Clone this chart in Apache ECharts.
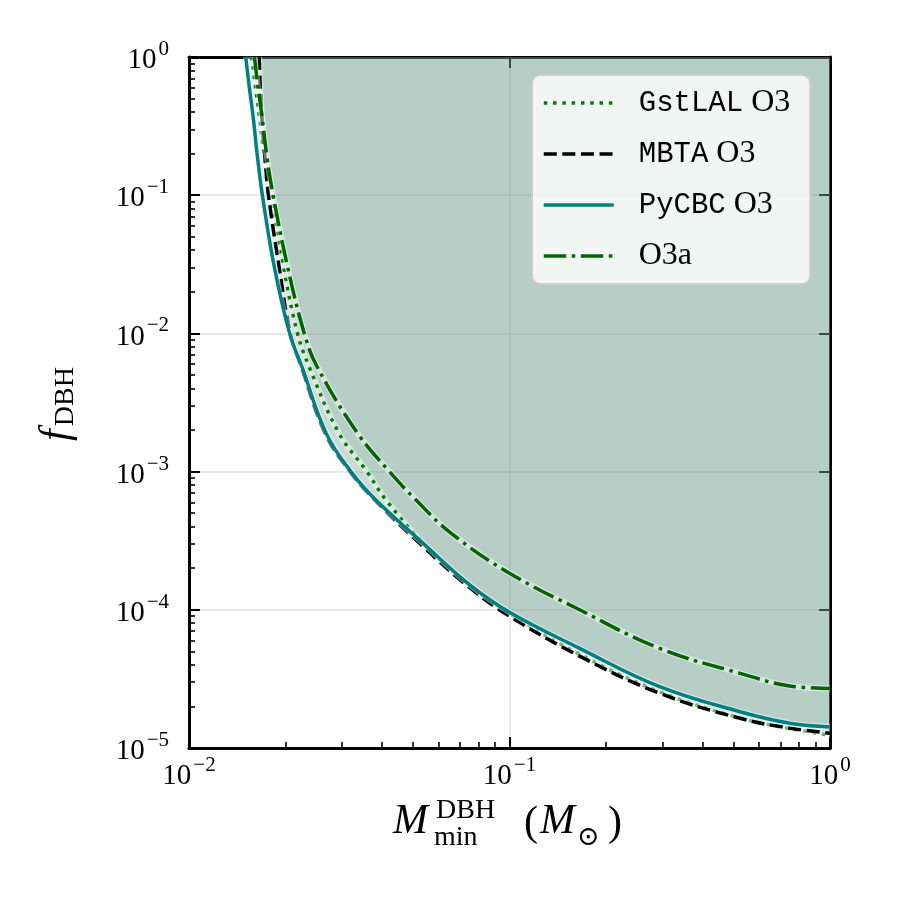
<!DOCTYPE html>
<html>
<head>
<meta charset="utf-8">
<script src="https://cdn.jsdelivr.net/npm/echarts@6/dist/echarts.min.js"></script>
<style>
html, body { margin: 0; background: #fff; }
#chart { width: 900px; height: 900px; }
</style>
</head>
<body>
<div id="chart"></div>
<script>
"use strict";

// curves: [M_min (M_sun), f_DBH]
const gstlalO3 = [
	[0.0157, 1.0], [0.0161, 0.62], [0.0166, 0.37], [0.0172, 0.19], [0.0180, 0.10],
	[0.0197, 0.0304], [0.0218, 0.0100], [0.0237, 5.74e-3], [0.0294, 1.89e-3],
	[0.0359, 1.0e-3], [0.0412, 6.22e-4], [0.055, 2.86e-4], [0.075, 1.50e-4],
	[0.1, 9.4e-5], [0.1655, 4.75e-5], [0.294, 2.55e-5], [0.524, 1.65e-5],
	[0.75, 1.38e-5], [1.0, 1.24e-5]
];
const mbtaO3 = [
	[0.01655, 1.0], [0.01668, 0.62], [0.01687, 0.37], [0.01725, 0.19], [0.0177, 0.10],
	[0.0191, 0.0304], [0.0207, 0.0100], [0.0224, 5.74e-3], [0.0266, 1.89e-3],
	[0.0318, 1.0e-3], [0.0380, 6.22e-4], [0.0535, 2.90e-4], [0.075, 1.45e-4],
	[0.1, 9.0e-5], [0.1655, 4.62e-5], [0.294, 2.49e-5], [0.524, 1.64e-5],
	[0.75, 1.39e-5], [1.0, 1.28e-5]
];
const pycbcO3 = [
	[0.01503, 1.0], [0.01540, 0.62], [0.01585, 0.37], [0.01635, 0.19], [0.01694, 0.10],
	[0.01845, 0.0304], [0.0206, 0.0100], [0.0225, 5.74e-3], [0.0268, 1.89e-3],
	[0.0320, 1.0e-3], [0.0383, 6.22e-4], [0.054, 3.0e-4], [0.075, 1.52e-4],
	[0.1, 9.6e-5], [0.1655, 5.26e-5], [0.294, 2.78e-5], [0.524, 1.83e-5],
	[0.75, 1.51e-5], [1.0, 1.42e-5]
];
const o3a = [
	[0.0160, 1.0], [0.0164, 0.62], [0.0169, 0.37], [0.0175, 0.19], [0.0183, 0.10],
	[0.0203, 0.0304], [0.0229, 0.0100], [0.0251, 5.74e-3], [0.0336, 1.89e-3],
	[0.0422, 1.0e-3], [0.0511, 6.22e-4], [0.0658, 3.57e-4], [0.1, 1.84e-4],
	[0.1655, 1.0e-4], [0.294, 5.26e-5], [0.524, 3.47e-5], [0.75, 2.81e-5],
	[1.0, 2.70e-5]
];

const legendNames = ["GstLAL O3", "MBTA O3", "PyCBC O3", "O3a"];

// minor tick positions (log axes)
const mantissas = [2, 3, 4, 5, 6, 7, 8, 9];
const xDecades = [0.01, 0.1];
const yDecades = [1e-5, 1e-4, 1e-3, 1e-2, 1e-1];
const minorX = [].concat(...xDecades.map(d => mantissas.map(m => m * d)));
const minorY = [].concat(...yDecades.map(d => mantissas.map(m => m * d)));

const serif = "Liberation Serif";
const mono = "Liberation Mono";

const chart = echarts.init(document.getElementById("chart"), null, { renderer: "canvas" });

const powLabel = (v) => {
	const e = Math.round(Math.log10(v));
	return "{b|10}{s|" + (e < 0 ? "\u2212" + (-e) : e) + "}";
};

const tickRich = {
	b: { fontFamily: serif, fontSize: 29, lineHeight: 36, verticalAlign: "bottom", color: "#000" },
	s: { fontFamily: serif, fontSize: 21, lineHeight: 18, verticalAlign: "top", color: "#000", padding: [0, 0, 0, 2] }
};

const frame = { show: true, onZero: false, lineStyle: { color: "#000", width: 3 } };
const majorTick = { show: true, inside: true, length: 11, lineStyle: { color: "#000", width: 2 } };
const grid = { show: true, lineStyle: { color: "#e8e8e8", width: 2 } };
const none = { show: false };
const plotRect = { left: 189, right: 70, top: 57, bottom: 152, containLabel: false };

const logAxis = (extra, min, max) => Object.assign({
	type: "log", logBase: 10, min: min, max: max, gridIndex: 0,
	axisLine: none, axisTick: none, axisLabel: none, splitLine: none
}, extra);

// minor ticks sit on a plain axis (second, overlapping grid) running over the exponents,
// so they land at 2..9 of each decade
const minorAxis = (position, values, min, max) => ({
	type: "value", position: position, min: min, max: max, gridIndex: 1,
	axisLine: { show: false, onZero: false }, axisLabel: none, splitLine: none,
	axisTick: { show: true, inside: true, length: 6, customValues: values.map(Math.log10), lineStyle: { color: "#000", width: 1.6 } }
});

const fillColor = "rgba(110,157,138,0.2)";

const fill = (data) => ({
	type: "line", data: data, symbol: "none", smooth: 0.4,
	lineStyle: { width: 0 }, areaStyle: { color: fillColor, origin: "end", opacity: 1 },
	silent: true, z: 1
});
const halo = (data) => ({
	type: "line", data: data, symbol: "none", smooth: 0.4,
	lineStyle: { color: "rgba(255,255,255,0.45)", width: 6 }, silent: true, z: 2
});
const curve = (name, data, color, dash) => ({
	name: name, type: "line", data: data, symbol: "none", smooth: 0.4,
	lineStyle: { color: color, width: 3.5, type: dash, cap: "butt" },
	itemStyle: { color: color }, silent: true, z: 2
});

const option = {
	animation: false,
	backgroundColor: "#fff",
	grid: [plotRect, Object.assign({}, plotRect)],
	xAxis: [
		logAxis({
			position: "bottom", axisLine: frame, axisTick: majorTick, splitLine: grid,
			axisLabel: { show: true, margin: 7, formatter: powLabel, rich: tickRich, showMinLabel: true, showMaxLabel: true }
		}, 0.01, 1),
		logAxis({ position: "top", axisLine: frame, axisTick: majorTick }, 0.01, 1),
		minorAxis("bottom", minorX, -2, 0)
	],
	yAxis: [
		logAxis({
			position: "left", axisLine: frame, axisTick: majorTick, splitLine: grid,
			axisLabel: { show: true, margin: 20, formatter: powLabel, rich: tickRich, showMinLabel: true, showMaxLabel: true }
		}, 1e-5, 1),
		logAxis({ position: "right", axisLine: frame, axisTick: majorTick }, 1e-5, 1),
		minorAxis("left", minorY, -5, 0)
	],
	legend: {
		data: legendNames,
		orient: "vertical",
		left: 532, top: 75,
		itemWidth: 70, itemHeight: 30, itemGap: 19,
		padding: [12, 20, 12, 10],
		backgroundColor: "rgba(255,255,255,0.8)",
		borderColor: "#cccccc", borderWidth: 2, borderRadius: 8,
		selectedMode: false,
		itemStyle: { opacity: 0 },
		lineStyle: { width: 3.5, opacity: 1 },
		z: 10,
		formatter: (name) => {
			const p = name.split(" ");
			return p.length > 1
				? "{g|}{m|" + p[0] + "}{s| " + p[1] + "}"
				: "{g|}{s|" + name + "}";
		},
		textStyle: {
			rich: {
				g: { width: 20 },
				m: { fontFamily: mono, fontSize: 29, color: "#000" },
				s: { fontFamily: serif, fontSize: 32, color: "#000" }
			}
		}
	},
	series: [
		fill(gstlalO3), fill(mbtaO3), fill(pycbcO3),
		halo(gstlalO3), curve("GstLAL O3", gstlalO3, "#008000", [3.5, 5.8]),
		halo(mbtaO3), curve("MBTA O3", mbtaO3, "#000000", [13, 5.6]),
		halo(pycbcO3), curve("PyCBC O3", pycbcO3, "#008080", "solid"),
		halo(o3a), curve("O3a", o3a, "#006400", [22.4, 5.6, 3.5, 5.6])
	],
	graphic: [
		// x axis title: M_min^DBH (M_sun)
		{ type: "text", x: 393, y: 822, style: { text: "M", fontFamily: serif, fontStyle: "italic", fontSize: 42, fill: "#000", verticalAlign: "middle" } },
		{ type: "text", x: 436, y: 811, style: { text: "DBH", fontFamily: serif, fontSize: 28, fill: "#000", verticalAlign: "middle" } },
		{ type: "text", x: 434, y: 838, style: { text: "min", fontFamily: serif, fontSize: 28, fill: "#000", verticalAlign: "middle" } },
		{ type: "text", x: 524, y: 824, style: { text: "(", fontFamily: serif, fontSize: 42, fill: "#000", verticalAlign: "middle" } },
		{ type: "text", x: 540, y: 822, style: { text: "M", fontFamily: serif, fontStyle: "italic", fontSize: 42, fill: "#000", verticalAlign: "middle" } },
		{ type: "text", x: 577, y: 838, style: { text: "\u2299", fontFamily: "DejaVu Serif", fontSize: 27, fill: "#000", verticalAlign: "middle" } },
		{ type: "text", x: 608, y: 824, style: { text: ")", fontFamily: serif, fontSize: 42, fill: "#000", verticalAlign: "middle" } },
		// y axis title: f_DBH
		{
			type: "text", x: 58, y: 404, rotation: Math.PI / 2,
			style: {
				text: "{f|f}{d|DBH}", align: "center", verticalAlign: "middle",
				rich: {
					f: { fontFamily: serif, fontStyle: "italic", fontSize: 42, lineHeight: 44, verticalAlign: "top", fill: "#000" },
					d: { fontFamily: serif, fontSize: 28, lineHeight: 28, verticalAlign: "bottom", fill: "#000", padding: [0, 0, 0, 3] }
				}
			}
		}
	]
};

chart.setOption(option);
</script>
</body>
</html>
